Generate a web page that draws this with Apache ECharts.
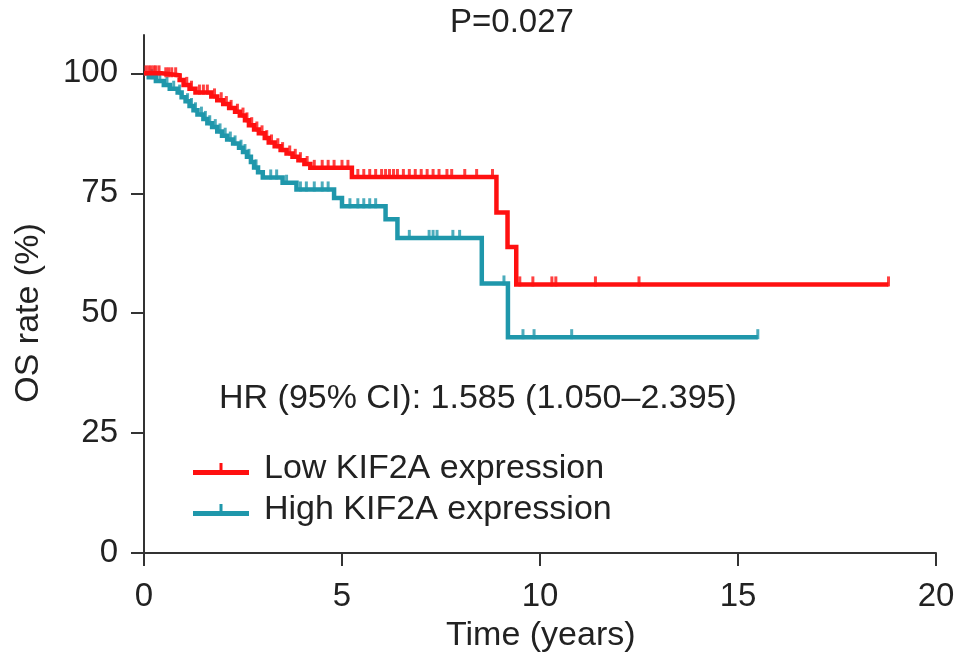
<!DOCTYPE html>
<html>
<head>
<meta charset="utf-8">
<script src="https://cdn.jsdelivr.net/npm/echarts@6/dist/echarts.min.js"></script>
<style>
  html, body { margin: 0; padding: 0; background: #fff; }
  #chart { width: 969px; height: 672px; }
</style>
</head>
<body>
<div id="chart"></div>
<script>
// Kaplan-Meier OS curves, low vs high KIF2A expression.
// Step points are [event time, survival after the event].

const LOW_NAME = "Low KIF2A expression";
const HIGH_NAME = "High KIF2A expression";

const lowTimes = [0, 0.45, 0.9, 1.0, 1.15, 1.3, 1.7, 1.85, 2.0, 2.15, 2.3, 2.42, 2.55, 2.65,
  2.78, 2.9, 3.05, 3.15, 3.3, 3.45, 3.6, 3.75, 3.9, 4.05, 4.2, 5.25, 8.9, 9.18, 9.4, 18.8];
const lowSurv = [100, 99.6, 98.6, 97.6, 96.8, 96.0, 95.2, 94.4, 93.6, 92.8, 92.0, 91.2, 90.2, 89.2,
  88.3, 87.5, 86.5, 85.6, 84.8, 84.0, 83.3, 82.6, 81.9, 81.1, 80.3, 78.4, 71.0, 63.8, 56.0, 56.0];
const lowCensor = [0.05, 0.12, 0.18, 0.25, 0.3, 0.38, 0.55, 0.62, 0.7, 0.8, 1.08, 1.2, 1.4, 1.5, 1.6,
  1.78, 1.95, 2.08, 2.2, 2.36, 2.5, 2.6, 2.72, 2.85, 2.98, 3.1, 3.22, 3.38, 3.5, 3.68, 3.82, 3.95,
  4.12, 4.3, 4.5, 4.65, 4.8, 5.0, 5.15, 5.4, 5.55, 5.7, 5.85, 6.0, 6.1, 6.2, 6.3, 6.4, 6.55,
  6.7, 6.85, 7.0, 7.15, 7.3, 7.45, 7.65, 7.77, 8.1, 8.4, 8.8, 9.49, 9.82, 10.3, 10.4, 11.4, 12.5, 18.8];

const highTimes = [0, 0.12, 0.3, 0.5, 0.65, 0.85, 0.95, 1.05, 1.15, 1.25, 1.35, 1.5, 1.6, 1.72,
  1.85, 1.97, 2.1, 2.25, 2.4, 2.5, 2.6, 2.7, 2.78, 2.88, 3.0, 3.5, 3.85, 4.8, 5.0, 6.1, 6.4,
  8.53, 9.19, 15.5];
const highSurv = [100, 99.2, 98.4, 97.6, 96.8, 96.0, 95.0, 94.2, 93.2, 92.3, 91.4, 90.5, 89.6, 88.8,
  87.9, 87.0, 86.2, 85.4, 84.5, 83.6, 82.6, 81.5, 80.4, 79.4, 78.3, 77.2, 75.8, 74.0, 72.3, 69.6, 65.7,
  56.2, 45.0, 45.0];
const highCensor = [0.2, 0.4, 0.58, 0.75, 0.9, 1.1, 1.2, 1.3, 1.45, 1.55, 1.66, 1.8, 1.92, 2.05,
  2.18, 2.3, 2.45, 2.55, 2.65, 2.83, 3.2, 3.35, 3.6, 3.95, 4.1,
  4.3, 4.5, 4.65, 5.2, 5.4, 5.55, 5.7, 5.85, 6.7, 7.2, 7.3, 7.4, 7.8, 7.97, 9.09, 9.57, 9.85, 10.8, 15.5];

const xTicks = [0, 5, 10, 15, 20];
const yTicks = [0, 25, 50, 75, 100];

const RED = "#ff1010";
const TEAL = "#1f97ab";
const FONT = "Liberation Sans, Arial, sans-serif";
const INK = "#222";

// survival value of a step curve at time t
function survAt(times, surv, t) {
  let v = surv[0];
  for (let i = 0; i < times.length; i++) {
    if (times[i] <= t) v = surv[i];
  }
  return v;
}

const stepPairs = (times, surv) => times.map((t, i) => [t, surv[i]]);
const censorPairs = (cens, times, surv) => cens.map((t) => [t, survAt(times, surv, t)]);

const LEGEND_ICON = "path://M0,7h56v5h-56z M26.5,0h3v7h-3z";

const chart = echarts.init(document.getElementById("chart"));

chart.setOption({
  backgroundColor: "#fff",
  animation: false,
  grid: { left: 144, right: 33, top: 35, bottom: 119 },
  xAxis: {
    type: "value",
    min: 0,
    max: 20,
    interval: 5,
    axisLine: { lineStyle: { color: "#333", width: 2 } },
    axisTick: { length: 13, customValues: xTicks, lineStyle: { color: "#333", width: 2 } },
    axisLabel: { margin: 27, fontSize: 33, fontFamily: FONT, color: INK, customValues: xTicks },
    splitLine: { show: false },
  },
  yAxis: {
    type: "value",
    min: 0,
    max: 108,
    axisLine: { show: true, lineStyle: { color: "#333", width: 2 } },
    axisTick: { show: true, length: 13, customValues: yTicks, lineStyle: { color: "#333", width: 2 } },
    axisLabel: { margin: 26, fontSize: 33, fontFamily: FONT, color: INK, customValues: yTicks },
    splitLine: { show: false },
  },
  legend: {
    orient: "vertical",
    left: 188,
    top: 447,
    itemWidth: 56,
    itemHeight: 12,
    itemGap: 7,
    textStyle: { fontSize: 34, fontFamily: FONT, color: INK, padding: [0, 0, 0, 10] },
    data: [
      { name: LOW_NAME, icon: LEGEND_ICON },
      { name: HIGH_NAME, icon: LEGEND_ICON },
    ],
  },
  graphic: [
    {
      type: "text", left: 450, top: 6,
      style: { text: "P=0.027", fontSize: 33, fontFamily: FONT, fill: INK },
    },
    {
      type: "text", left: 219, top: 382,
      style: { text: "HR (95% CI): 1.585 (1.050\u20132.395)", fontSize: 34, fontFamily: FONT, fill: INK },
    },
    {
      type: "text", left: 446, top: 619,
      style: { text: "Time (years)", fontSize: 34, fontFamily: FONT, fill: INK },
    },
    {
      type: "text", x: 29, y: 313, rotation: Math.PI / 2,
      style: { text: "OS rate (%)", fontSize: 34, fontFamily: FONT, fill: INK, align: "center", verticalAlign: "middle" },
    },
  ],
  series: [
    {
      name: HIGH_NAME,
      type: "line",
      step: "end",
      showSymbol: false,
      silent: true,
      itemStyle: { color: TEAL },
      lineStyle: { color: TEAL, width: 4.5, join: "miter" },
      data: stepPairs(highTimes, highSurv),
    },
    {
      name: HIGH_NAME,
      type: "scatter",
      symbol: "rect",
      symbolSize: [3, 10],
      symbolOffset: [0, -3],
      silent: true,
      itemStyle: { color: TEAL },
      data: censorPairs(highCensor, highTimes, highSurv),
    },
    {
      name: LOW_NAME,
      type: "line",
      step: "end",
      showSymbol: false,
      silent: true,
      itemStyle: { color: RED },
      lineStyle: { color: RED, width: 4.5, join: "miter" },
      data: stepPairs(lowTimes, lowSurv),
    },
    {
      name: LOW_NAME,
      type: "scatter",
      symbol: "rect",
      symbolSize: [3, 10],
      symbolOffset: [0, -3],
      silent: true,
      itemStyle: { color: RED },
      data: censorPairs(lowCensor, lowTimes, lowSurv),
    },
  ],
});

window.addEventListener("resize", () => chart.resize());
</script>
</body>
</html>
